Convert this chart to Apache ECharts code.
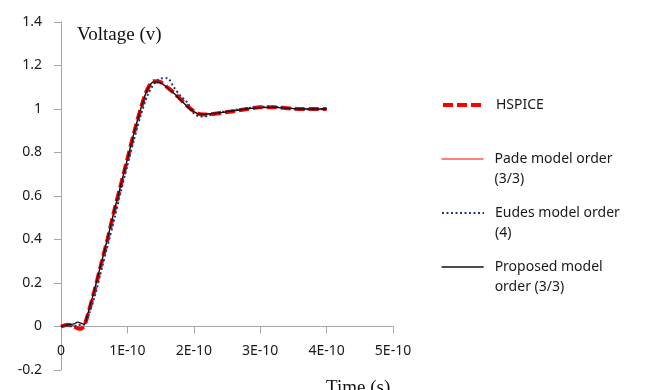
<!DOCTYPE html>
<html>
<head>
<meta charset="utf-8">
<script src="https://cdn.jsdelivr.net/npm/echarts@6/dist/echarts.min.js"></script>
<style>html,body{margin:0;padding:0;background:#fff}#c{width:646px;height:390px}</style>
</head>
<body>
<div id="c"></div>
<script>
// time in units of 1E-10 s
const time = [0,0.1,0.2,0.25,0.3,0.35,0.4,0.5,0.6,0.7,0.8,0.9,1.0,1.1,1.2,1.3,1.4,1.5,1.6,1.7,1.8,1.9,2.0,2.1,2.2,2.4,2.6,2.8,3.0,3.2,3.4,3.6,3.8,4.0];
const hspice   = [0,0.008,0.0,-0.008,-0.01,0.005,0.05,0.16,0.28,0.40,0.53,0.65,0.77,0.89,1.0,1.09,1.128,1.124,1.10,1.075,1.045,1.015,0.99,0.976,0.975,0.982,0.99,1.0,1.008,1.008,1.004,1.0,1.0,1.0];
const pade     = [0,0.008,0.002,-0.004,-0.006,0.008,0.052,0.162,0.282,0.402,0.53,0.65,0.77,0.89,1.0,1.089,1.127,1.122,1.099,1.074,1.044,1.014,0.989,0.976,0.976,0.983,0.991,1.0,1.007,1.008,1.004,1.0,1.0,1.0];
const eudes    = [0,0.003,0.0,0.005,0.008,0.01,0.04,0.13,0.25,0.37,0.49,0.62,0.74,0.86,0.97,1.06,1.115,1.14,1.142,1.10,1.06,1.03,0.98,0.965,0.968,0.985,0.995,1.003,1.01,1.01,1.005,0.998,0.998,1.0];
const proposed = [0,0.008,0.012,0.02,0.015,0.01,0.055,0.165,0.285,0.405,0.53,0.65,0.77,0.89,1.0,1.088,1.125,1.12,1.098,1.072,1.042,1.012,0.988,0.976,0.977,0.983,0.992,1.0,1.006,1.008,1.004,1.0,1.0,1.0];
const seriesNames = ['HSPICE','Pade model order (3/3)','Eudes model order (4)','Proposed model order (3/3)'];
const legendLabels = ['HSPICE','\nPade model order\n(3/3)','\nEudes model order\n(4)','\nProposed model\norder (3/3)'];
const xTicks = {0:'0',1:'1E-10',2:'2E-10',3:'3E-10',4:'4E-10',5:'5E-10'};
const yAxisTitle = 'Voltage (v)';
const xAxisTitle = 'Time (s)';

const pairs = arr => time.map((t,i)=>[t, arr[i]]);
const styles = [
  {color:'#ff0000', width:4, type:[10,4]},
  {color:'#ff0000', width:1, type:'solid'},
  {color:'#1f3b78', width:2, type:[2,2.5]},
  {color:'#111111', width:1.3, type:'solid'}
];
const dataSets = [hspice, pade, eudes, proposed];
const font = '"Noto Sans", sans-serif';
const legendTops = [95, 129, 183, 237];

const chart = echarts.init(document.getElementById('c'), null, {renderer:'canvas'});
chart.setOption({
  animation:false,
  grid:{left:61, right:253, top:22, bottom:20, outerBoundsMode:'none', containLabel:false},
  xAxis:{
    type:'value', min:0, max:5, interval:1, offset:-43.5,
    axisLine:{onZero:false, lineStyle:{color:'#a6a6a6', width:1}},
    axisTick:{show:true, inside:false, length:7, lineStyle:{color:'#a6a6a6'}},
    splitLine:{show:false},
    axisLabel:{margin:18, fontSize:14, fontFamily:font, color:'#1a1a1a', formatter:v=>xTicks[Math.round(v)]}
  },
  yAxis:{
    type:'value', min:-0.2, max:1.4, interval:0.2,
    axisLine:{show:true, lineStyle:{color:'#a6a6a6', width:1}},
    axisTick:{show:true, inside:false, length:7, lineStyle:{color:'#a6a6a6'}},
    splitLine:{show:false},
    axisLabel:{margin:19, fontSize:14, fontFamily:font, color:'#1a1a1a', formatter:v=>{const r=Math.round(v*10)/10; return String(r);}}
  },
  legend: seriesNames.map((n,i)=>({
    data:[n], left:441, top:legendTops[i], orient:'vertical', padding:0,
    itemWidth:42, itemHeight:14, selectedMode:false,
    itemStyle:{opacity:0},
    lineStyle:{width:styles[i].width, type:styles[i].type, color:styles[i].color},
    formatter:()=>legendLabels[i],
    textStyle:{fontSize:14, fontFamily:font, color:'#1a1a1a', lineHeight:20, padding:[0,0,0,6]}
  })),
  graphic:[
    {type:'text', left:77, top:26, style:{text:yAxisTitle, font:'19px "Liberation Serif", serif', fill:'#111'}},
    {type:'text', left:326, top:379, style:{text:xAxisTitle, font:'19px "Liberation Serif", serif', fill:'#111'}}
  ],
  series: seriesNames.map((n,i)=>({
    name:n, type:'line', data:pairs(dataSets[i]), symbol:'none', smooth:0.3,
    lineStyle:{color:styles[i].color, width:styles[i].width, type:styles[i].type},
    itemStyle:{color:styles[i].color}, z:2+i
  }))
});
</script>
</body>
</html>
